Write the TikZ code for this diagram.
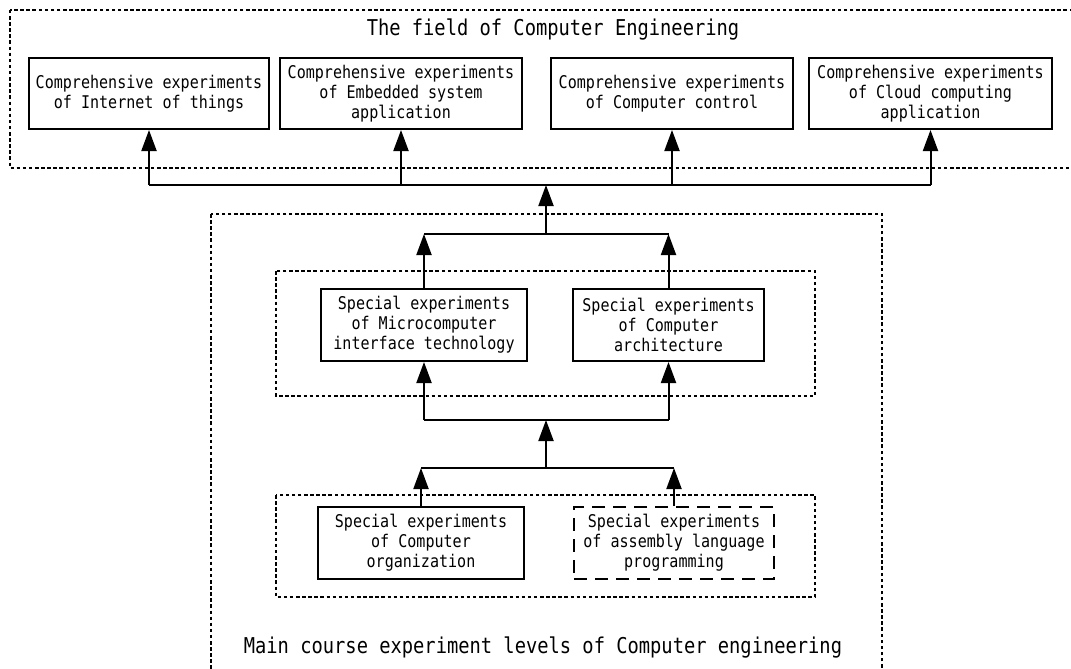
\documentclass[tikz,border=0pt]{standalone}
\usepackage{fontspec}
\usetikzlibrary{arrows.meta}
\newfontfamily\diagfont[FakeStretch=0.86]{DejaVu Sans Mono}
\begin{document}
\begin{tikzpicture}[x=1pt,y=-1pt,
  boxtext/.style={font=\diagfont\fontsize{17.5}{20}\selectfont},
  cbox/.style={draw, line width=2pt, inner sep=0pt, align=center, boxtext},
  dbox/.style={cbox, dash pattern=on 13pt off 8pt},
  frame/.style={draw, line width=1.9pt, dash pattern=on 3.5pt off 2.6pt},
  conn/.style={line width=2pt},
  arr/.style={line width=2pt, -{Triangle[length=21pt,width=15pt]}},
  lbl/.style={font=\diagfont\fontsize{21.8}{26}\selectfont, inner sep=0pt}
]
\useasboundingbox (0,0) rectangle (1071,669);
\clip (0,0) rectangle (1071,669);
% frames
\draw[frame] (10,10) rectangle (1085,168);
\draw[frame] (211,214) rectangle (882,700);
\draw[frame] (276,271) rectangle (815,396);
\draw[frame] (276,495) rectangle (815,597);
% labels
\node[lbl] (title) at (553,30) {The field of Computer Engineering};
\node[lbl] (main) at (543,647) {Main course experiment levels of Computer engineering};
% top boxes
\node[cbox, minimum width=240pt, minimum height=71pt] (t1) at (149,93.5) {Comprehensive experiments\\of Internet of things};
\node[cbox, minimum width=242pt, minimum height=71pt] (t2) at (401,93.5) {Comprehensive experiments\\of Embedded system\\application};
\node[cbox, minimum width=242pt, minimum height=71pt] (t3) at (672,93.5) {Comprehensive experiments\\of Computer control};
\node[cbox, minimum width=243pt, minimum height=71pt] (t4) at (930.5,93.5) {Comprehensive experiments\\of Cloud computing\\application};
% middle boxes
\node[cbox, minimum width=206pt, minimum height=72pt] (m1) at (424,325) {Special experiments\\of Microcomputer\\interface technology};
\node[cbox, minimum width=191pt, minimum height=72pt] (m2) at (668.5,325) {Special experiments\\of Computer\\architecture};
% bottom boxes
\node[cbox, minimum width=206pt, minimum height=72pt] (b1) at (421,543) {Special experiments\\of Computer\\organization};
\node[dbox, minimum width=200pt, minimum height=72pt] (b2) at (674,543) {Special experiments\\of assembly language\\programming};
% bus coordinates
\coordinate (topbus) at (546,185);
\coordinate (midbus) at (546,234);
\coordinate (lowbus) at (546,420);
\coordinate (botbus) at (546,468);
% top bus
\draw[conn] (t1.south |- topbus) -- (t4.south |- topbus);
\draw[arr] (t1.south |- topbus) -- (t1.south);
\draw[arr] (t2.south |- topbus) -- (t2.south);
\draw[arr] (t3.south |- topbus) -- (t3.south);
\draw[arr] (t4.south |- topbus) -- (t4.south);
\draw[arr] (midbus) -- (topbus);
% middle bus above middle boxes
\draw[conn] (m1.north |- midbus) -- (m2.north |- midbus);
\draw[arr] (m1.north) -- (m1.north |- midbus);
\draw[arr] (m2.north) -- (m2.north |- midbus);
% bus below middle boxes
\draw[conn] (m1.south |- lowbus) -- (m2.south |- lowbus);
\draw[arr] (m1.south |- lowbus) -- (m1.south);
\draw[arr] (m2.south |- lowbus) -- (m2.south);
\draw[arr] (botbus) -- (lowbus);
% bus above bottom boxes
\draw[conn] (b1.north |- botbus) -- (b2.north |- botbus);
\draw[arr] (b1.north) -- (b1.north |- botbus);
\draw[arr] (b2.north) -- (b2.north |- botbus);
\end{tikzpicture}
\end{document}
